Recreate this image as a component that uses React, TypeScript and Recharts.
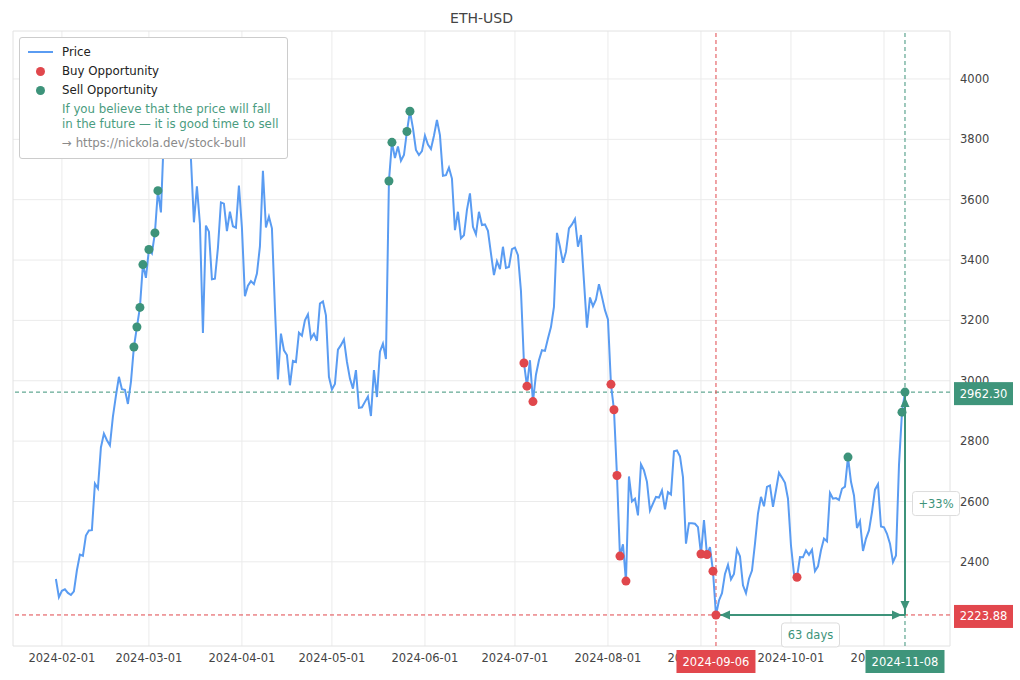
import React from 'react';
import {
  ComposedChart,
  Line,
  Scatter,
  XAxis,
  YAxis,
  CartesianGrid,
  ReferenceLine,
  ReferenceDot,
  ReferenceArea,
} from 'recharts';

// daily closes, first value is 2024-01-30
const START_DATE = '2024-01-30';
const PRICES = [
  2343, 2283,
  2304, 2309, 2297, 2290, 2302, 2372, 2424, 2420, 2487, 2504, 2505, 2659, 2643, 2779, 2825, 2803, 2786, 2881, 2950, 3013, 2972, 2970, 2923, 2995, 3112, 3178, 3243, 3385, 3341,
  3435, 3422, 3490, 3630, 3558, 3818, 3868, 3887, 3919, 3879, 4067, 3982, 4003, 3881, 3737, 3525, 3644, 3520, 3158, 3514, 3494, 3336, 3338, 3440, 3591, 3587, 3496, 3560, 3512, 3507, 3647,
  3507, 3280, 3315, 3330, 3320, 3355, 3445, 3696, 3508, 3544, 3505, 3242, 3004, 3156, 3101, 3085, 2985, 3066, 3062, 3159, 3149, 3200, 3220, 3140, 3156, 3132, 3256, 3263, 3217, 3013,
  2971, 2989, 3103, 3118, 3137, 3063, 3007, 2974, 3035, 2910, 2912, 2930, 2948, 2883, 3035, 2946, 3096, 3123, 3072, 3662, 3790, 3738, 3776, 3729, 3748, 3826, 3893, 3837, 3765, 3748, 3761,
  3812, 3783, 3768, 3812, 3864, 3814, 3679, 3681, 3706, 3670, 3499, 3560, 3472, 3482, 3566, 3621, 3510, 3485, 3560, 3516, 3518, 3497, 3422, 3350, 3396, 3370, 3444, 3374, 3377, 3436,
  3441, 3416, 3298, 3059, 2982, 3068, 2931, 3020, 3068, 3101, 3099, 3140, 3178, 3245, 3490, 3444, 3391, 3427, 3505, 3518, 3536, 3444, 3483, 3330, 3176, 3276, 3247, 3269, 3320, 3278, 3234,
  3203, 2988, 2904, 2686, 2419, 2458, 2336, 2683, 2600, 2609, 2554, 2723, 2703, 2665, 2570, 2593, 2615, 2613, 2637, 2574, 2631, 2623, 2766, 2769, 2750, 2681, 2460, 2528, 2528, 2526, 2515,
  2426, 2538, 2424, 2449, 2369, 2223.88, 2272, 2296, 2360, 2390, 2342, 2360, 2441, 2418, 2322, 2296, 2344, 2371, 2460, 2560, 2615, 2584, 2648, 2653, 2582, 2637, 2695, 2679, 2662, 2609,
  2454, 2360, 2349, 2416, 2415, 2438, 2423, 2440, 2369, 2385, 2438, 2477, 2468, 2628, 2609, 2611, 2605, 2642, 2649, 2747, 2665, 2620, 2512, 2535, 2436, 2477, 2504, 2565, 2639, 2657, 2517,
  2514, 2493, 2460, 2399, 2421, 2721, 2896, 2962.3,
];

const BUY_DATES = [
  '2024-07-04', '2024-07-05', '2024-07-07',
  '2024-08-02', '2024-08-03', '2024-08-04', '2024-08-05', '2024-08-07',
  '2024-09-01', '2024-09-03', '2024-09-05', '2024-09-06',
  '2024-10-03',
];
const SELL_DATES = [
  '2024-02-25', '2024-02-26', '2024-02-27', '2024-02-28', '2024-03-01', '2024-03-03', '2024-03-04',
  '2024-05-20', '2024-05-21', '2024-05-26', '2024-05-27',
  '2024-10-20', '2024-11-07', '2024-11-08',
];

const MONTH_TICKS = [
  '2024-02-01', '2024-03-01', '2024-04-01', '2024-05-01', '2024-06-01',
  '2024-07-01', '2024-08-01', '2024-09-01', '2024-10-01', '2024-11-01',
];
const Y_TICKS = [2400, 2600, 2800, 3000, 3200, 3400, 3600, 3800, 4000];

const LOW_DATE = '2024-09-06';
const HIGH_DATE = '2024-11-08';

const BLUE = '#5a9cf2';
const RED = '#e0474c';
const GREEN = '#3d937a';
const RED_TAG = '#e2474d';
const GREEN_TAG = '#3f957b';
const FONT = '"DejaVu Sans", sans-serif';

const DAY = 86400000;
const ORIGIN = Date.UTC(2024, 1, 1);
const dayOf = (s: string) => {
  const [y, m, d] = s.split('-').map(Number);
  return (Date.UTC(y, m - 1, d) - ORIGIN) / DAY;
};
const dateOf = (t: number) => new Date(ORIGIN + Math.round(t) * DAY).toISOString().slice(0, 10);

const t0 = dayOf(START_DATE);
const series = PRICES.map((price, i) => ({ t: t0 + i, date: dateOf(t0 + i), price }));
const priceAt = (d: string) => series.find((p) => p.date === d)!.price;
const buyPts = BUY_DATES.map((d) => ({ t: dayOf(d), price: priceAt(d) }));
const sellPts = SELL_DATES.map((d) => ({ t: dayOf(d), price: priceAt(d) }));

const tLow = dayOf(LOW_DATE);
const tHigh = dayOf(HIGH_DATE);
const low = priceAt(LOW_DATE);
const high = priceAt(HIGH_DATE);
const days = tHigh - tLow;
const pct = Math.round((high / low - 1) * 100);

const monthTicks = MONTH_TICKS.map(dayOf);
const X_DOMAIN: [number, number] = [-16.3, 296];
const Y_DOMAIN: [number, number] = [2121, 4159];

const dot = (color: string) => (p: any) => <circle cx={p.cx} cy={p.cy} r={4.5} fill={color} />;

const arrowhead = (dir: 'left' | 'right' | 'up' | 'down', gap: number) => (p: any) => {
  const { cx, cy } = p;
  const len = 10;
  const half = 4.5;
  let pts = '';
  if (dir === 'left') pts = `${cx + gap},${cy} ${cx + gap + len},${cy - half} ${cx + gap + len},${cy + half}`;
  if (dir === 'right') pts = `${cx - gap},${cy} ${cx - gap - len},${cy - half} ${cx - gap - len},${cy + half}`;
  if (dir === 'up') pts = `${cx},${cy + gap} ${cx - half},${cy + gap + len} ${cx + half},${cy + gap + len}`;
  if (dir === 'down') pts = `${cx},${cy - gap} ${cx - half},${cy - gap - len} ${cx + half},${cy - gap - len}`;
  return <polygon points={pts} fill={GREEN} />;
};

// outlined note box
const note = (text: string, w: number, dx: number, dy: number) => (p: any) => {
  const cx = p.cx + dx;
  const cy = p.cy + dy;
  return (
    <g>
      <rect x={cx - w / 2} y={cy - 12} width={w} height={24} rx={3} fill="#fff" stroke="#dcdcdc" />
      <text x={cx} y={cy} textAnchor="middle" dominantBaseline="central" fill={GREEN} fontSize={11.5} fontFamily={FONT}>
        {text}
      </text>
    </g>
  );
};

// x ticks: month labels, then the two date tags drawn on top of them
const XTick = (p: any) => {
  const v = p.payload.value;
  if (v === tLow || v === tHigh) {
    return (
      <g>
        <rect x={p.x - 39.5} y={p.y - 4} width={79} height={23} fill={v === tLow ? RED_TAG : GREEN_TAG} />
        <text x={p.x} y={p.y + 7.5} textAnchor="middle" dominantBaseline="central" fill="#fff" fontSize={11.5} fontFamily={FONT}>
          {dateOf(v)}
        </text>
      </g>
    );
  }
  return (
    <text x={p.x} y={p.y} dy="0.71em" textAnchor="middle" fill="#444" fontSize={11.5} fontFamily={FONT}>
      {dateOf(v)}
    </text>
  );
};

// y ticks: price labels, then the two price tags drawn on top of them
const YTick = (p: any) => {
  const v = p.payload.value;
  if (v === low || v === high) {
    return (
      <g>
        <rect x={p.x - 6} y={p.y - 10} width={59} height={23} fill={v === low ? RED_TAG : GREEN_TAG} />
        <text x={p.x + 23.5} y={p.y + 1.5} textAnchor="middle" dominantBaseline="central" fill="#fff" fontSize={11.5} fontFamily={FONT}>
          {v.toFixed(2)}
        </text>
      </g>
    );
  }
  return (
    <text x={p.x} y={p.y} dy="0.355em" textAnchor="start" fill="#444" fontSize={11.5} fontFamily={FONT}>
      {v}
    </text>
  );
};

const LegendBox = () => {
  const row = (top: number, children: React.ReactNode, color = '#222') => (
    <div style={{ position: 'absolute', left: 42, top, lineHeight: '16px', fontSize: 11.8, color, whiteSpace: 'nowrap' }}>
      {children}
    </div>
  );
  const marker = (top: number, color: string) => (
    <div style={{ position: 'absolute', left: 15.5, top, width: 9, height: 9, borderRadius: '50%', background: color }} />
  );
  return (
    <div
      style={{
        position: 'absolute',
        left: 19,
        top: 37,
        width: 267,
        height: 120,
        background: '#fff',
        border: '1px solid #cccccc',
        borderRadius: 3,
        fontFamily: FONT,
      }}
    >
      <div style={{ position: 'absolute', left: 8, top: 13, width: 25, height: 2, background: BLUE }} />
      {row(6, 'Price')}
      {marker(28.5, RED)}
      {row(25, 'Buy Opportunity')}
      {marker(47.5, GREEN)}
      {row(44, 'Sell Opportunity')}
      {row(63, 'If you believe that the price will fall', '#4a9c80')}
      {row(78, 'in the future — it is good time to sell', '#4a9c80')}
      {row(97, '→ https://nickola.dev/stock-bull', '#8a8a8a')}
    </div>
  );
};

export default function App() {
  return (
    <div style={{ position: 'absolute', left: 0, top: 0, width: 1020, height: 680, background: '#fff', fontFamily: FONT }}>
      <div style={{ position: 'absolute', left: 13, top: 10, width: 937, textAlign: 'center', fontSize: 14, color: '#444' }}>
        ETH-USD
      </div>
      <ComposedChart width={1020} height={680} data={series} margin={{ top: 31, right: 10, bottom: 10, left: 13 }}>
        <CartesianGrid stroke="#ebebeb" horizontalValues={Y_TICKS} verticalValues={monthTicks} />
        <ReferenceArea x1={X_DOMAIN[0]} x2={X_DOMAIN[1]} y1={Y_DOMAIN[0]} y2={Y_DOMAIN[1]} fill="none" stroke="#e2e2e2" />
        <XAxis
          type="number"
          dataKey="t"
          domain={X_DOMAIN}
          allowDataOverflow
          ticks={[...monthTicks, tLow, tHigh]}
          interval={0}
          height={24}
          axisLine={false}
          tickLine={false}
          tickSize={0}
          tickMargin={8}
          tick={XTick}
        />
        <YAxis
          orientation="right"
          type="number"
          domain={Y_DOMAIN}
          allowDataOverflow
          ticks={[...Y_TICKS, high, low]}
          interval={0}
          width={60}
          axisLine={false}
          tickLine={false}
          tickSize={0}
          tickMargin={10}
          tick={YTick}
        />
        <ReferenceLine y={high} stroke={GREEN} strokeDasharray="4 3" />
        <ReferenceLine y={low} stroke={RED} strokeDasharray="4 3" />
        <ReferenceLine x={tLow} stroke={RED} strokeDasharray="4 3" />
        <ReferenceLine x={tHigh} stroke={GREEN} strokeDasharray="4 3" />
        <Line type="linear" dataKey="price" stroke={BLUE} strokeWidth={2} dot={false} isAnimationActive={false} />
        <ReferenceLine segment={[{ x: tLow, y: low }, { x: tHigh, y: low }]} stroke={GREEN} strokeWidth={2} />
        <ReferenceLine segment={[{ x: tHigh, y: low }, { x: tHigh, y: high }]} stroke={GREEN} strokeWidth={2} />
        <ReferenceDot x={tLow} y={low} ifOverflow="visible" shape={arrowhead('left', 4)} />
        <ReferenceDot x={tHigh} y={low} ifOverflow="visible" shape={arrowhead('right', 3)} />
        <ReferenceDot x={tHigh} y={low} ifOverflow="visible" shape={arrowhead('down', 4)} />
        <ReferenceDot x={tHigh} y={high} ifOverflow="visible" shape={arrowhead('up', 5)} />
        <Scatter data={buyPts} dataKey="price" shape={dot(RED)} isAnimationActive={false} />
        <Scatter data={sellPts} dataKey="price" shape={dot(GREEN)} isAnimationActive={false} />
        <ReferenceDot x={(tLow + tHigh) / 2} y={low} ifOverflow="visible" shape={note(`${days} days`, 58, 0, 20)} />
        <ReferenceDot x={tHigh} y={(low + high) / 2} ifOverflow="visible" shape={note(`+${pct}%`, 47, 31, 0)} />
      </ComposedChart>
      <LegendBox />
    </div>
  );
}
